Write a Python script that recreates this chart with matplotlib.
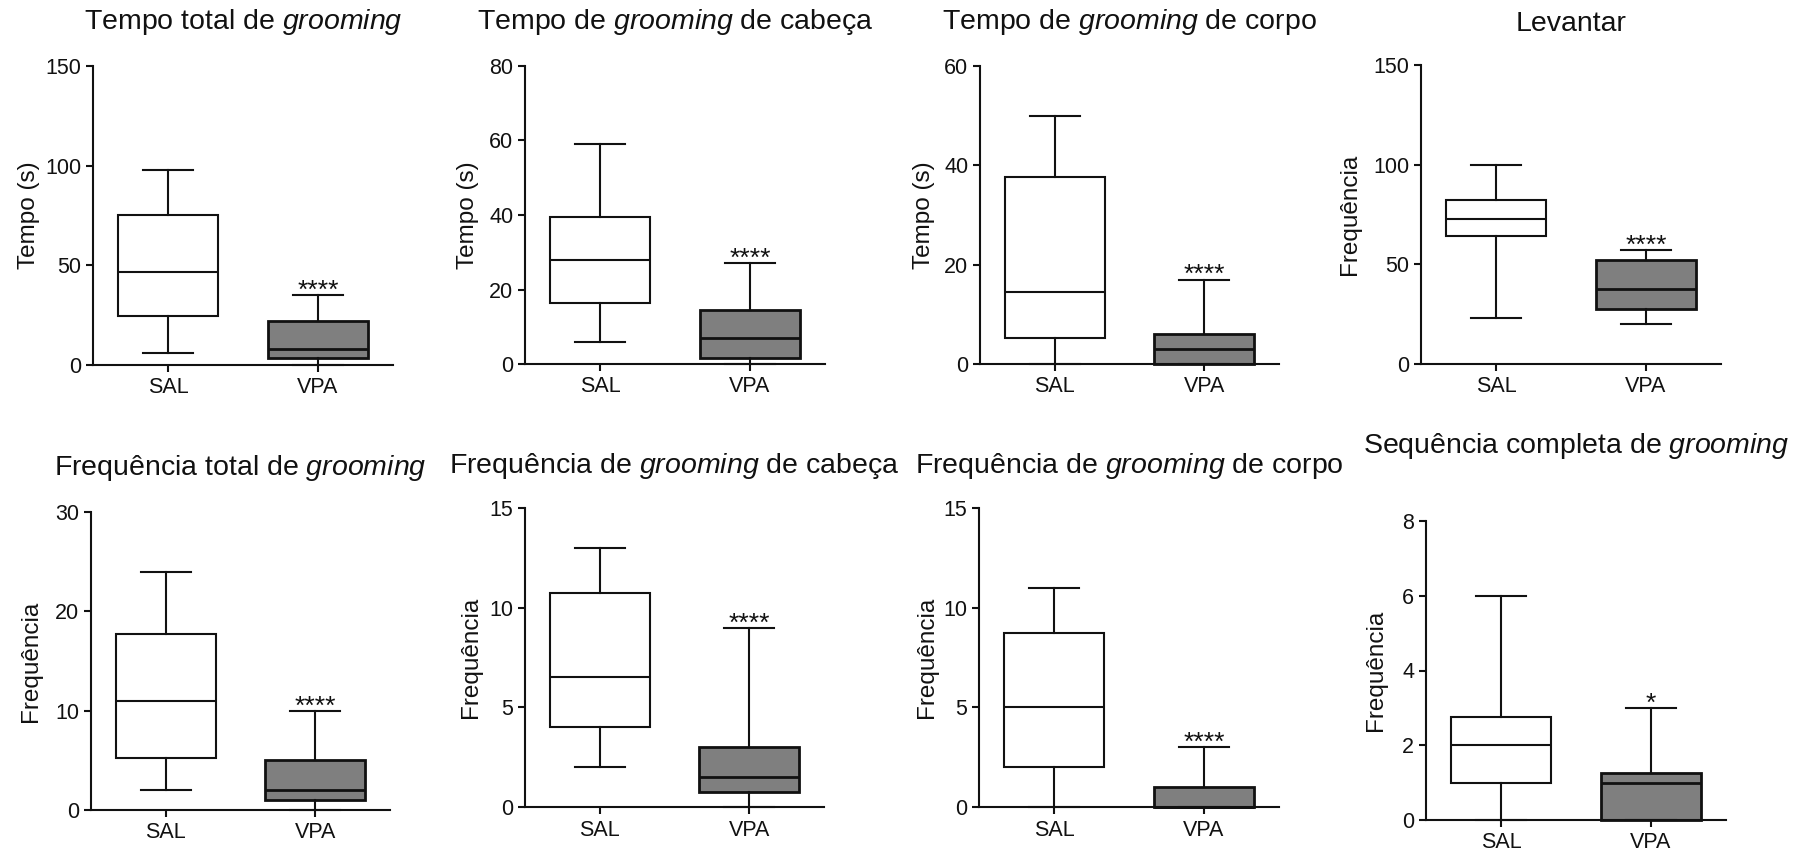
import matplotlib
matplotlib.use("Agg")
import matplotlib.pyplot as plt

plt.rcParams['font.family'] = ['Liberation Sans', 'DejaVu Sans']
plt.rcParams['mathtext.fontset'] = 'custom'
plt.rcParams['mathtext.rm'] = 'Liberation Sans'
plt.rcParams['mathtext.it'] = 'Liberation Sans:italic'

# ---------------- data ----------------
groups = ["SAL", "VPA"]
titles = [
    r"Tempo total de $\mathit{grooming}$",
    r"Tempo de $\mathit{grooming}$ de cabeça",
    r"Tempo de $\mathit{grooming}$ de corpo",
    "Levantar",
    r"Frequência total de $\mathit{grooming}$",
    r"Frequência de $\mathit{grooming}$ de cabeça",
    r"Frequência de $\mathit{grooming}$ de corpo",
    r"Sequência completa de $\mathit{grooming}$",
]
ylabels = ["Tempo (s)", "Tempo (s)", "Tempo (s)", "Frequência",
           "Frequência", "Frequência", "Frequência", "Frequência"]
ymax = [150, 80, 60, 150, 30, 15, 15, 8]
ystep = [50, 20, 20, 50, 10, 5, 5, 2]

sal_min = [6, 6, 0, 23, 2, 2, 0, 0]
sal_q1 = [24.5, 16.5, 5.2, 64, 5.25, 4, 2, 1]
sal_med = [46.5, 28, 14.5, 72.5, 11, 6.5, 5, 2]
sal_q3 = [75, 39.5, 37.7, 82.5, 17.75, 10.75, 8.75, 2.75]
sal_max = [98, 59, 50, 100, 24, 13, 11, 6]

vpa_min = [0, 0, 0, 20, 0, 0, 0, 0]
vpa_q1 = [3.5, 1.5, 0, 27.5, 1, 0.75, 0, 0]
vpa_med = [8, 7, 3, 37.5, 2, 1.5, 0, 1]
vpa_q3 = [22, 14.5, 6, 52, 5, 3, 1, 1.25]
vpa_max = [35, 27, 17, 57, 10, 9, 3, 3]

signif = ["****", "****", "****", "****", "****", "****", "****", "*"]

# ---------------- layout (pixels) ----------------
W, H = 1814, 856
# left, right, top, bottom of each plotting area
boxes_px = [
    (93, 393, 66, 365), (525, 825, 66, 364), (980, 1279, 66, 364), (1421, 1721, 65, 364),
    (91, 390, 512, 810), (525, 824, 508, 807), (979, 1279, 508, 807), (1426, 1726, 521, 820),
]
title_pad_px = [37, 37, 37, 34, 37, 35, 35, 68]
ylabel_x_px = [40, 479, 935, 1361, 42, 482, 938, 1387]

fig = plt.figure(figsize=(W / 100, H / 100), dpi=100)

for i in range(8):
    l, r, t, b = boxes_px[i]
    ax = fig.add_axes([l / W, 1 - b / H, (r - l) / W, (b - t) / H])
    stats = [
        dict(med=sal_med[i], q1=sal_q1[i], q3=sal_q3[i], whislo=sal_min[i], whishi=sal_max[i], label=groups[0]),
        dict(med=vpa_med[i], q1=vpa_q1[i], q3=vpa_q3[i], whislo=vpa_min[i], whishi=vpa_max[i], label=groups[1]),
    ]
    bp = ax.bxp(stats, positions=[0, 1], widths=0.667, capwidths=0.333,
                patch_artist=True, showfliers=False,
                whiskerprops=dict(color='#111111', linewidth=1.5),
                capprops=dict(color='#111111', linewidth=1.5),
                medianprops=dict(color='#111111', linewidth=1.5))
    fills = ['white', '#7f7f7f']
    edgelw = [1.5, 2.0]
    for j, patch in enumerate(bp['boxes']):
        patch.set_facecolor(fills[j])
        patch.set_edgecolor('#111111')
        patch.set_linewidth(edgelw[j])
    bp['medians'][1].set_linewidth(2.0)
    for art in bp['whiskers'] + bp['caps'] + bp['medians'] + bp['boxes']:
        art.set_clip_on(False)

    ax.set_xlim(-0.5, 1.5)
    ax.set_ylim(0, ymax[i])
    ax.set_yticks(range(0, ymax[i] + 1, ystep[i]))
    ax.set_xticks([0, 1])
    ax.set_xticklabels(groups)
    for s in ['top', 'right']:
        ax.spines[s].set_visible(False)
    for s in ['left', 'bottom']:
        ax.spines[s].set_linewidth(1.5)
        ax.spines[s].set_color('#111111')
    ax.tick_params(axis='both', length=5, width=1.5, color='#111111', labelsize=15.5,
                   labelcolor='#111111')
    ax.tick_params(axis='y', pad=3.5)
    ax.tick_params(axis='x', pad=4)

    ax.set_title(titles[i], fontsize=20.5, pad=title_pad_px[i] * 0.72, color='#111111')
    ax.set_ylabel(ylabels[i], fontsize=17.5, color='#111111')
    ax.yaxis.set_label_coords((ylabel_x_px[i] - l) / (r - l), 0.5)

    ax.annotate(signif[i], xy=(1, vpa_max[i]), xytext=(0, -2), textcoords='offset points',
                ha='center', va='baseline', fontsize=19, color='#111111',
                annotation_clip=False)

fig.savefig("out.png", dpi=100)
